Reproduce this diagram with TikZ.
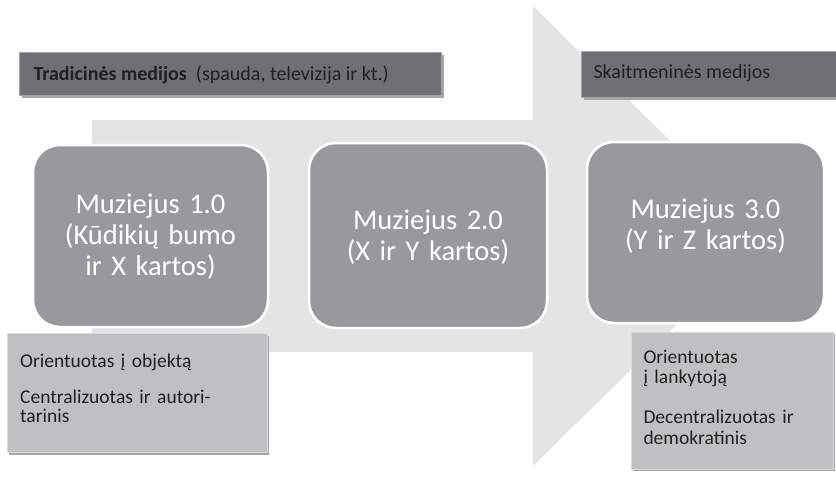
\documentclass[tikz,border=0pt]{standalone}
\usepackage{fontspec}
\setmainfont{Carlito}
\usetikzlibrary{shadows}
\definecolor{arrowgray}{HTML}{E4E4E5}
\definecolor{darkbox}{HTML}{6F7073}
\definecolor{darkshadow}{HTML}{A3A4A6}
\definecolor{midgray}{HTML}{98999C}
\definecolor{lightbox}{HTML}{BFC0C2}
\definecolor{lightborder}{HTML}{DADADB}
\definecolor{lightshadow}{HTML}{A5A6A8}
\definecolor{txtdark}{HTML}{231F20}
\begin{document}
\begin{tikzpicture}[x=1pt,y=-1pt,
  boxbase/.style={inner sep=0pt, outer sep=0pt, anchor=north west},
  headbox/.style={boxbase, fill=darkbox, draw=darkshadow, line width=0.5pt,
    general shadow={fill=darkshadow, shadow xshift=2.5pt, shadow yshift=-3pt}},
  museum/.style={boxbase, fill=midgray, draw=white, line width=2.5pt, rounded corners=27pt},
  notebox/.style={boxbase, fill=lightbox, draw=lightborder, line width=0.8pt,
    general shadow={fill=lightshadow, shadow xshift=1.6pt, shadow yshift=-2.2pt}},
  headtxt/.style={inner sep=0pt, anchor=base west, text=txtdark, font=\fontsize{20}{24}\selectfont},
  bigtxt/.style={inner sep=0pt, anchor=base, text=white, text width=230pt, align=center,
    font=\fontsize{28.5}{31}\selectfont},
  notetxt/.style={inner sep=0pt, anchor=base west, text=txtdark, text width=200pt, align=left,
    font=\fontsize{19.5}{19.5}\selectfont}]
\useasboundingbox (0,0) rectangle (836,482);
% big background arrow
\fill[arrowgray] (92,120) -- (533,120) -- (533,6) -- (767,236) -- (533,466) -- (533,352) -- (92,352) -- cycle;
% header boxes
\node[headbox, minimum width=422pt, minimum height=43pt] (hl) at (19,52) {};
\node[headbox, minimum width=260pt, minimum height=46pt] (hr) at (581,51) {};
\node[headtxt] (hltxt) at (33.3,80.5) {\textbf{Tradicinės medijos}\hspace{9pt}(spauda, televizija ir kt.)};
\node[headtxt] (hrtxt) at (593.3,78.3) {Skaitmeninės medijos};
% museum boxes
\node[museum, minimum width=235pt, minimum height=182pt] (m1) at (33,145) {};
\node[museum, minimum width=238pt, minimum height=185pt] (m2) at (309,143) {};
\node[museum, minimum width=237pt, minimum height=181pt] (m3) at (587,142) {};
\node[bigtxt] (t1) at (150.5,213) {Muziejus 1.0\\(Kūdikių bumo\\ir X kartos)};
\node[bigtxt] (t2) at (428,229) {Muziejus 2.0\\(X ir Y kartos)};
\node[bigtxt] (t3) at (705.5,218) {Muziejus 3.0\\(Y ir Z kartos)};
% note boxes
\node[notebox, minimum width=260.5pt, minimum height=119pt] (nl) at (7,333.5) {};
\node[notebox, minimum width=202.5pt, minimum height=137pt] (nr) at (631,332) {};
\node[notetxt] (nltxt) at (20,367) {Orientuotas į objektą\\[16.5pt]Centralizuotas ir autori-\\tarinis};
\node[notetxt, font=\fontsize{19.5}{20.2}\selectfont] (nrtxt) at (643.3,363.5) {Orientuotas\\į lankytoją\\[20pt]Decentralizuotas ir\\demokratinis};
\end{tikzpicture}
\end{document}
